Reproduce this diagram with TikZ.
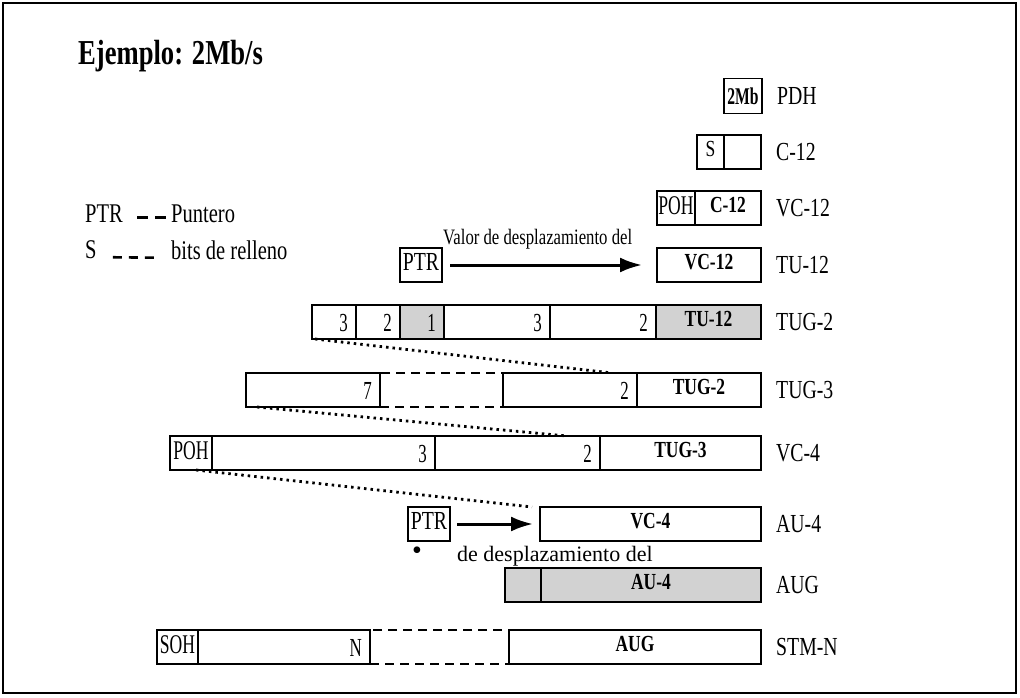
\documentclass[tikz,border=0pt]{standalone}
\usepackage{fontspec}
\setmainfont{Liberation Serif}[FakeStretch=0.76]
\newfontfamily\tallfont{Liberation Serif}[FakeStretch=0.65]
\newfontfamily\widefont{Liberation Serif}
\usetikzlibrary{positioning,arrows.meta,calc}

\begin{document}
\begin{tikzpicture}[
        x=1pt, y=-1pt,
        cell/.style={draw, line width=1.6pt, minimum height=34pt, inner sep=0pt, outer sep=0pt,
            anchor=west, text depth=7pt, font=\fontsize{23}{26}\selectfont\bfseries},
        plain/.style={cell, text depth=5pt, font=\fontsize{27}{30}\tallfont},
        shaded/.style={cell, fill=gray!35},
        gap/.style={cell, line width=2pt, dash pattern=on 9pt off 6pt},
        num/.style={anchor=south east, inner sep=0pt, xshift=-8pt, yshift=7pt,
            font=\fontsize{26}{30}\tallfont},
        side/.style={inner sep=0pt, font=\fontsize{26}{30}\selectfont},
        legend/.style={inner sep=0pt, anchor=west, font=\fontsize{27}{30}\selectfont},
        note/.style={inner sep=0pt, anchor=base west, font=\fontsize{22}{26}\selectfont},
        ptrarrow/.style={line width=3pt, -{Latex[length=22pt, width=15pt]}},
        dotline/.style={line width=2.8pt, dash pattern=on 2.5pt off 4pt}
    ]
    % frame
    \useasboundingbox (0,0) rectangle (1020,698);
    \draw[line width=2.6pt] (3,3) rectangle (1016,693);
    \node[anchor=base west, inner sep=0pt, font=\fontsize{35}{40}\selectfont\bfseries] (title) at (78,65) {Ejemplo: 2Mb/s};

    % legend
    \node[legend] (ptrkey) at (85,214) {PTR};
    \node[legend] (punt) at (171,214) {Puntero};
    \node[legend] (skey) at (85,250) {S};
    \node[legend] (bits) at (171,250) {bits de relleno};
    \draw[line width=3pt, dash pattern=on 11pt off 7pt] ([xshift=14pt, yshift=-3pt]ptrkey.east) -- ([xshift=-2pt, yshift=-3pt]punt.west);
    \draw[line width=2.6pt, dash pattern=on 9pt off 7pt] ([xshift=16pt, yshift=2pt]skey.south east) -- ([xshift=-15pt, yshift=2pt]bits.south west);

    % PDH, C-12, VC-12, TU-12
    \node[cell, minimum width=38pt, minimum height=35pt, text depth=0pt, font=\fontsize{24}{26}\tallfont\bfseries] (pdh) at (724,96) {2Mb};
    \node[side, right=15pt of pdh] (lpdh) {PDH};

    \node[cell, minimum width=27pt, font=\fontsize{23}{26}\selectfont] (c12s) at (697,152) {S};
    \node[cell, minimum width=37pt, right=0pt of c12s] (c12) {};
    \node[side, right=15pt of c12] (lc12) {C-12};

    \node[plain, minimum width=38pt] (vc12p) at (657,208) {POH};
    \node[cell, minimum width=66pt, right=0pt of vc12p] (vc12) {C-12};
    \node[side, right=15pt of vc12] (lvc12) {VC-12};

    \node[cell, minimum width=104pt] (tu12) at (657,265) {VC-12};
    \node[side, right=15pt of tu12] (ltu12) {TU-12};
    \node[cell, minimum width=42pt, font=\fontsize{26}{28}\selectfont] (ptra) at (400,265) {PTR};
    \node[note] (valor) at (443,244) {Valor de desplazamiento del};
    \draw[ptrarrow, shorten <=8pt, shorten >=15pt] (ptra) -- (tu12);

    % TUG-2
    \node[cell, minimum width=44pt, label={[num]south east:3}] (tug2a) at (312,322) {};
    \node[cell, minimum width=44pt, right=0pt of tug2a, label={[num]south east:2}] (tug2b) {};
    \node[shaded, minimum width=44pt, right=0pt of tug2b, label={[num]south east:1}] (tug2c) {};
    \node[cell, minimum width=106pt, right=0pt of tug2c, label={[num]south east:3}] (tug2d) {};
    \node[cell, minimum width=106pt, right=0pt of tug2d, label={[num]south east:2}] (tug2e) {};
    \node[shaded, minimum width=105pt, right=0pt of tug2e] (tug2f) {TU-12};
    \node[side, right=15pt of tug2f] (ltug2) {TUG-2};

    % TUG-3
    \node[cell, minimum width=134pt, label={[num]south east:7}] (tug3a) at (246,390) {};
    \node[gap, minimum width=123pt, right=0pt of tug3a] (tug3gap) {};
    \node[cell, minimum width=134pt, right=0pt of tug3gap, label={[num]south east:2}] (tug3b) {};
    \node[cell, minimum width=124pt, right=0pt of tug3b] (tug3c) {TUG-2};
    \node[side, right=15pt of tug3c] (ltug3) {TUG-3};

    % VC-4
    \node[plain, minimum width=42pt] (vc4a) at (170,453) {POH};
    \node[cell, minimum width=223pt, right=0pt of vc4a, label={[num]south east:3}] (vc4b) {};
    \node[cell, minimum width=165pt, right=0pt of vc4b, label={[num]south east:2}] (vc4c) {};
    \node[cell, minimum width=161pt, right=0pt of vc4c] (vc4d) {TUG-3};
    \node[side, right=15pt of vc4d] (lvc4) {VC-4};

    % AU-4
    \node[cell, minimum width=42pt, font=\fontsize{26}{28}\selectfont] (ptrb) at (408,524) {PTR};
    \node[cell, minimum width=221pt] (au4) at (540,524) {VC-4};
    \node[side, right=15pt of au4] (lau4) {AU-4};
    \draw[ptrarrow, shorten <=7pt, shorten >=7pt] (ptrb) -- (au4);
    \node[inner sep=0pt, anchor=base, font=\fontsize{28}{28}\widefont] (dot) at (417,559) {\textbullet};
    \node[note, font=\fontsize{22}{26}\widefont] (desp) at (457,561) {de desplazamiento del};

    % AUG
    \node[shaded, minimum width=36pt] (auga) at (505,585) {};
    \node[shaded, minimum width=220pt, right=0pt of auga] (augb) {AU-4};
    \node[side, right=15pt of augb] (laug) {AUG};

    % STM-N
    \node[plain, minimum width=41pt] (stma) at (157,647) {SOH};
    \node[cell, minimum width=172pt, right=0pt of stma, label={[num]south east:N}] (stmb) {};
    \node[gap, minimum width=139pt, right=0pt of stmb] (stmgap) {};
    \node[cell, minimum width=252pt, right=0pt of stmgap] (stmc) {AUG};
    \node[side, right=15pt of stmc] (lstm) {STM-N};

    % dotted expansion lines
    \coordinate (d1s) at ($(tug2a.south west)+(3,0)$);
    \coordinate (d1e) at ($(tug3b.north east)+(-25,0)$);
    \coordinate (d2s) at ($(tug3a.south west)+(11,0)$);
    \coordinate (d2e) at ($(vc4c.north east)+(-33,0)$);
    \coordinate (d3s) at ($(vc4a.south)+(5,0)$);
    \coordinate (d3e) at ($(au4.north west)+(-8,0)$);
    \draw[dotline] (d1s) -- (d1e);
    \draw[dotline] (d2s) -- (d2e);
    \draw[dotline] (d3s) -- (d3e);
\end{tikzpicture}
\end{document}
